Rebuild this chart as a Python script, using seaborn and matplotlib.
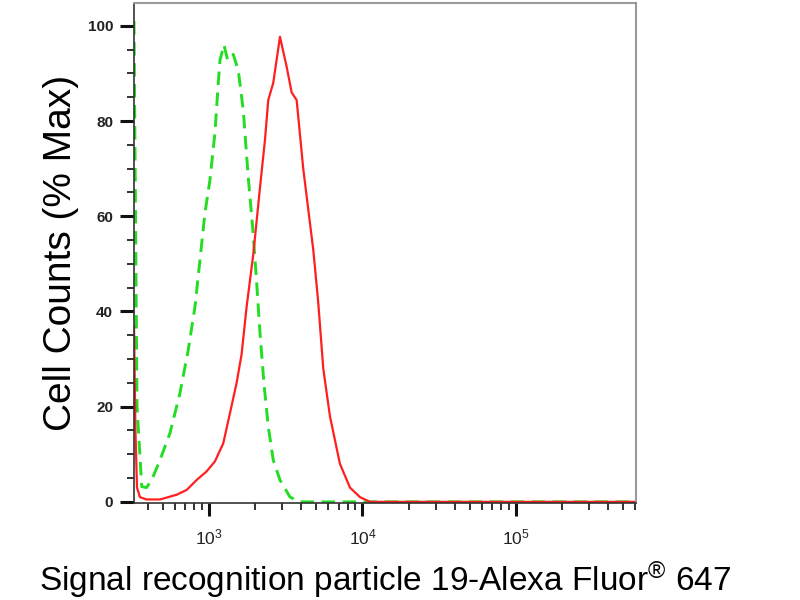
import numpy as np
import pandas as pd
import matplotlib
matplotlib.use("Agg")
import matplotlib.pyplot as plt
from matplotlib.ticker import LogLocator, MultipleLocator, NullFormatter
import seaborn as sns

# Fluorescence intensity (log axis) and % max counts
red_x = [325, 332, 340, 355, 392, 480, 617, 716, 832, 966, 1094, 1240, 1370,
         1515, 1632, 1760, 1945, 2150, 2317, 2434, 2623, 2902, 3208, 3457,
         3727, 4114, 4780, 5149, 5555, 6140, 7130, 8290, 9630, 11200, 20000,
         100000, 600000]
red_y = [37, 15, 3, 1, 0.5, 0.5, 1.5, 2.5, 4.6, 6.4, 8.5, 12.3, 18.6, 25, 31,
         41, 52, 66, 76, 84.4, 88, 97.7, 91.4, 86, 84.4, 70, 53, 42, 28, 18,
         8, 3, 1, 0, 0, 0, 0]

green_x = [325, 340, 365, 392, 424, 480, 557, 647, 733, 811, 874, 942, 1015,
           1094, 1150, 1180, 1253, 1324, 1440, 1552, 1673, 1803, 1926, 2046,
           2150, 2280, 2434, 2623, 2902, 3373, 3917, 10000, 600000]
green_y = [101, 20, 3.2, 3, 4.6, 8.8, 14.4, 22.8, 31.9, 41, 50.8, 60.7, 67.6,
           77.5, 88, 92.8, 96, 92.8, 94, 90.7, 82.3, 68.2, 57.7, 46, 35.5, 25,
           15.8, 8.8, 4.6, 1, 0, 0, 0]

y_ticks = [0, 20, 40, 60, 80, 100]

sns.set_style("white")
plt.rcParams['font.family'] = ['Liberation Sans', 'DejaVu Sans']
plt.rcParams['mathtext.fontset'] = 'custom'
plt.rcParams['mathtext.rm'] = 'Liberation Sans'
plt.rcParams['mathtext.it'] = 'Liberation Sans'
plt.rcParams['mathtext.bf'] = 'Liberation Sans:bold'

fig = plt.figure(figsize=(8, 6), dpi=100)
ax = fig.add_axes([0.1675, 0.162, 0.6275, 0.833])

df_green = pd.DataFrame({'x': green_x, 'y': green_y})
df_red = pd.DataFrame({'x': red_x, 'y': red_y})

sns.lineplot(data=df_green, x='x', y='y', ax=ax, color='#22dd22',
             linewidth=2.1, sort=False, estimator=None)
ax.lines[-1].set_dashes((4.6, 2.6))
sns.lineplot(data=df_red, x='x', y='y', ax=ax, color='#ff1f1f',
             linewidth=1.6, sort=False, estimator=None)

ax.set_xscale('log')
ax.set_xlim(325, 605000)
ax.set_ylim(-0.2, 104.8)

# ticks
ax.xaxis.set_major_locator(LogLocator(base=10, numticks=10))
ax.xaxis.set_minor_locator(LogLocator(base=10, subs=np.arange(2, 10),
                                      numticks=20))
ax.xaxis.set_minor_formatter(NullFormatter())
ax.set_yticks(y_ticks)
ax.yaxis.set_minor_locator(MultipleLocator(5))
ax.tick_params(axis='both', which='both', bottom=True, left=True,
               top=False, right=False, direction='out')
ax.tick_params(axis='both', which='major', width=2.2, color='#111111',
               labelcolor='#222222')
ax.tick_params(axis='both', which='minor', length=5, width=1.3,
               color='#222222')
ax.tick_params(axis='y', which='major', length=10, pad=5, labelsize=11)
ax.tick_params(axis='x', which='major', length=9.5, pad=8, labelsize=12.5)
for lab in ax.get_yticklabels():
    lab.set_fontweight('bold')

# frame: dark left/bottom, grey top/right
for side in ['left', 'bottom']:
    ax.spines[side].set_color('#333333')
    ax.spines[side].set_linewidth(1.2)
for side in ['top', 'right']:
    ax.spines[side].set_color('#999999')
    ax.spines[side].set_linewidth(1.5)

ax.set_ylabel('Cell Counts (% Max)', fontsize=28, labelpad=6,
              color='black')
ax.set_xlabel(r'Signal recognition particle 19-Alexa Fluor$^{®}$ 647',
              fontsize=24, labelpad=9, color='black')

fig.savefig('out.png', dpi=100)
